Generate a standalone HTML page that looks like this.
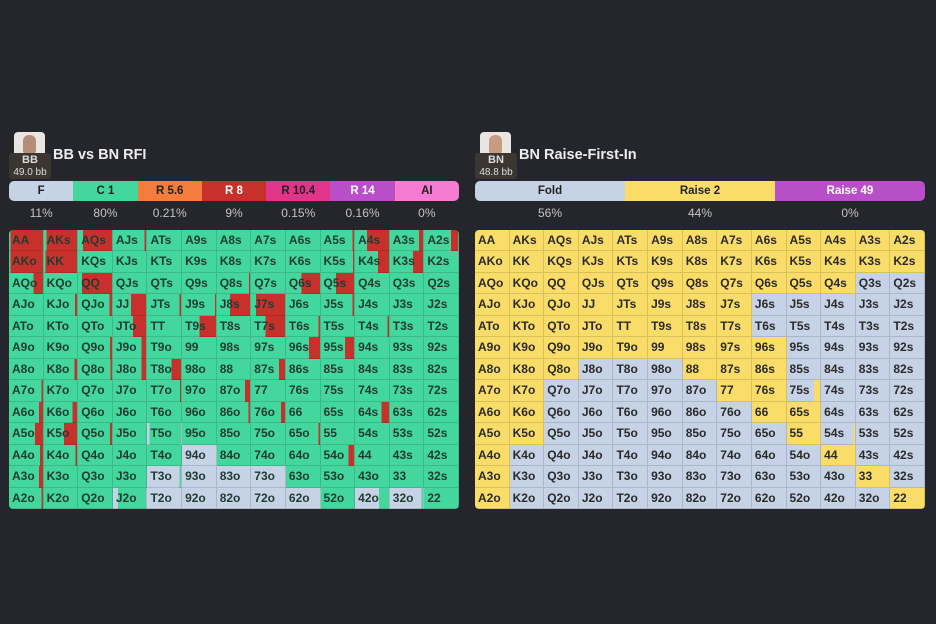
<!DOCTYPE html>
<html><head><meta charset="utf-8"><style>
*{box-sizing:border-box;margin:0;padding:0}
body{width:936px;height:624px;background:#25262b;font-family:"Liberation Sans",sans-serif;position:relative;overflow:hidden}
.av{position:absolute;width:31px;height:22px;background:#e9e6e2;border-radius:4px 4px 0 0;overflow:hidden}
.av i{position:absolute;left:9px;top:3px;width:13px;height:19px;border-radius:6px 6px 3px 3px;background:#b58d78}
.lab{position:absolute;width:42px;height:26px;background:#3b3631;border-radius:3px;color:#ddd;text-align:center;font-size:10px;line-height:12px;padding-top:1px}
.lab b{font-size:11px}
.title{position:absolute;color:#ececec;font-weight:bold;font-size:14.5px}
.bar{position:absolute;top:181px;height:20px;display:flex;border-radius:5px;overflow:hidden}
.bar div{flex:1;text-align:center;font-weight:bold;font-size:11.5px;line-height:20px;color:#222}
.pct{position:absolute;top:206px;display:flex}
.pct div{flex:1;text-align:center;font-size:12px;color:#c4c4c4}
.grid{position:absolute;top:230px;width:450px;height:279px;display:grid;grid-template-columns:repeat(13,1fr);grid-template-rows:repeat(13,1fr);border-radius:4px;overflow:hidden}
.grid div{border-right:1px solid rgba(0,0,0,.13);border-bottom:1px solid rgba(0,0,0,.13);font-weight:bold;font-size:12px;padding:3px 0 0 3px;color:#1f3b31;white-space:nowrap}
#L div{--b:0%;--r:0%;background:linear-gradient(90deg,#c6d2e6 var(--b),#43d69d var(--b),#43d69d calc(100% - var(--r)),#c8312b calc(100% - var(--r)))}
#R div{background:#c6d2e6;color:#2a2a2a}
#R div.y{background:#f9dd68}
</style></head><body>

<div class="av" style="left:14px;top:132px"><i></i></div>
<div class="lab" style="left:9px;top:153px"><b>BB</b><br>49.0 bb</div>
<div class="title" style="left:53px;top:147px">BB vs BN RFI</div>
<div class="bar" style="left:9px;width:450px">
<div style="background:#c6d2e6">F</div><div style="background:#43d69d">C 1</div><div style="background:#f47c3c">R 5.6</div><div style="background:#c8312b;color:#fff">R 8</div><div style="background:#e0358a">R 10.4</div><div style="background:#b94fc8;color:#fff">R 14</div><div style="background:#f57cd0">AI</div></div>
<div class="pct" style="left:9px;width:450px"><div>11%</div><div>80%</div><div>0.21%</div><div>9%</div><div>0.15%</div><div>0.16%</div><div>0%</div></div>

<div class="grid" id="L" style="left:9px">
<div style="--r:95%">AA</div><div style="--r:92%">AKs</div><div style="--r:85%">AQs</div><div style="--r:4%">AJs</div><div>ATs</div><div>A9s</div><div>A8s</div><div>A7s</div><div>A6s</div><div style="--r:4%">A5s</div><div style="--r:65%">A4s</div><div style="--r:12%">A3s</div><div style="--r:20%">A2s</div>
<div style="--r:95%">AKo</div><div style="--r:95%">KK</div><div>KQs</div><div>KJs</div><div>KTs</div><div>K9s</div><div>K8s</div><div>K7s</div><div>K6s</div><div style="--r:3%">K5s</div><div style="--r:33%">K4s</div><div style="--r:30%">K3s</div><div>K2s</div>
<div style="--r:28%">AQo</div><div>KQo</div><div style="--r:88%">QQ</div><div>QJs</div><div>QTs</div><div>Q9s</div><div style="--r:3%">Q8s</div><div>Q7s</div><div style="--r:55%">Q6s</div><div style="--r:55%">Q5s</div><div>Q4s</div><div>Q3s</div><div>Q2s</div>
<div>AJo</div><div style="--r:6%">KJo</div><div style="--r:8%">QJo</div><div style="--r:45%">JJ</div><div style="--r:4%">JTs</div><div style="--r:3%">J9s</div><div style="--r:60%">J8s</div><div style="--r:85%">J7s</div><div>J6s</div><div style="--r:5%">J5s</div><div>J4s</div><div>J3s</div><div>J2s</div>
<div>ATo</div><div>KTo</div><div>QTo</div><div style="--r:40%">JTo</div><div>TT</div><div style="--r:48%">T9s</div><div>T8s</div><div style="--r:58%">T7s</div><div style="--r:4%">T6s</div><div>T5s</div><div style="--r:4%">T4s</div><div>T3s</div><div>T2s</div>
<div>A9o</div><div>K9o</div><div style="--r:6%">Q9o</div><div style="--r:14%">J9o</div><div>T9o</div><div>99</div><div>98s</div><div>97s</div><div style="--r:32%">96s</div><div style="--r:27%">95s</div><div>94s</div><div>93s</div><div>92s</div>
<div>A8o</div><div style="--r:8%">K8o</div><div style="--r:4%">Q8o</div><div style="--r:13%">J8o</div><div style="--r:28%">T8o</div><div>98o</div><div>88</div><div style="--r:18%">87s</div><div>86s</div><div>85s</div><div>84s</div><div>83s</div><div>82s</div>
<div style="--r:5%">A7o</div><div>K7o</div><div>Q7o</div><div>J7o</div><div style="--r:3%">T7o</div><div>97o</div><div style="--r:15%">87o</div><div>77</div><div>76s</div><div>75s</div><div>74s</div><div>73s</div><div>72s</div>
<div style="--r:12%">A6o</div><div style="--r:13%">K6o</div><div>Q6o</div><div>J6o</div><div>T6o</div><div>96o</div><div style="--r:4%">86o</div><div style="--r:12%">76o</div><div>66</div><div>65s</div><div style="--r:22%">64s</div><div>63s</div><div>62s</div>
<div style="--r:24%">A5o</div><div style="--r:40%">K5o</div><div style="--r:6%">Q5o</div><div>J5o</div><div style="--b:7%">T5o</div><div>95o</div><div>85o</div><div>75o</div><div style="--r:4%">65o</div><div>55</div><div>54s</div><div>53s</div><div>52s</div>
<div style="--r:9%">A4o</div><div style="--r:4%">K4o</div><div>Q4o</div><div>J4o</div><div>T4o</div><div style="--b:100%">94o</div><div>84o</div><div>74o</div><div>64o</div><div style="--r:16%">54o</div><div>44</div><div>43s</div><div>42s</div>
<div style="--r:12%">A3o</div><div>K3o</div><div>Q3o</div><div>J3o</div><div style="--b:95%">T3o</div><div style="--b:100%">93o</div><div style="--b:100%">83o</div><div style="--b:100%">73o</div><div>63o</div><div>53o</div><div>43o</div><div>33</div><div>32s</div>
<div style="--r:4%">A2o</div><div>K2o</div><div>Q2o</div><div style="--b:15%">J2o</div><div style="--b:100%">T2o</div><div style="--b:100%">92o</div><div style="--b:100%">82o</div><div style="--b:100%">72o</div><div style="--b:100%">62o</div><div>52o</div><div style="--b:70%">42o</div><div style="--b:95%">32o</div><div>22</div>
</div>

<div class="av" style="left:480px;top:132px"><i style="background:#c79a82"></i></div>
<div class="lab" style="left:475px;top:153px"><b>BN</b><br>48.8 bb</div>
<div class="title" style="left:519px;top:147px">BN Raise-First-In</div>
<div class="bar" style="left:475px;width:450px">
<div style="background:#c6d2e6">Fold</div><div style="background:#f9dd68">Raise 2</div><div style="background:#b94fc8;color:#fff">Raise 49</div></div>
<div class="pct" style="left:475px;width:450px"><div>56%</div><div>44%</div><div>0%</div></div>

<div class="grid" id="R" style="left:475px">
<div class="y">AA</div><div class="y">AKs</div><div class="y">AQs</div><div class="y">AJs</div><div class="y">ATs</div><div class="y">A9s</div><div class="y">A8s</div><div class="y">A7s</div><div class="y">A6s</div><div class="y">A5s</div><div class="y">A4s</div><div class="y">A3s</div><div class="y">A2s</div>
<div class="y">AKo</div><div class="y">KK</div><div class="y">KQs</div><div class="y">KJs</div><div class="y">KTs</div><div class="y">K9s</div><div class="y">K8s</div><div class="y">K7s</div><div class="y">K6s</div><div class="y">K5s</div><div class="y">K4s</div><div class="y">K3s</div><div class="y">K2s</div>
<div class="y">AQo</div><div class="y">KQo</div><div class="y">QQ</div><div class="y">QJs</div><div class="y">QTs</div><div class="y">Q9s</div><div class="y">Q8s</div><div class="y">Q7s</div><div class="y">Q6s</div><div class="y">Q5s</div><div class="y">Q4s</div><div>Q3s</div><div>Q2s</div>
<div class="y">AJo</div><div class="y">KJo</div><div class="y">QJo</div><div class="y">JJ</div><div class="y">JTs</div><div class="y">J9s</div><div class="y">J8s</div><div class="y">J7s</div><div>J6s</div><div>J5s</div><div>J4s</div><div>J3s</div><div>J2s</div>
<div class="y">ATo</div><div class="y">KTo</div><div class="y">QTo</div><div class="y">JTo</div><div class="y">TT</div><div class="y">T9s</div><div class="y">T8s</div><div class="y">T7s</div><div>T6s</div><div>T5s</div><div>T4s</div><div>T3s</div><div>T2s</div>
<div class="y">A9o</div><div class="y">K9o</div><div class="y">Q9o</div><div class="y">J9o</div><div class="y">T9o</div><div class="y">99</div><div class="y">98s</div><div class="y">97s</div><div class="y">96s</div><div>95s</div><div>94s</div><div>93s</div><div>92s</div>
<div class="y">A8o</div><div class="y">K8o</div><div class="y">Q8o</div><div>J8o</div><div>T8o</div><div>98o</div><div class="y">88</div><div class="y">87s</div><div class="y">86s</div><div>85s</div><div>84s</div><div>83s</div><div>82s</div>
<div class="y">A7o</div><div class="y">K7o</div><div>Q7o</div><div>J7o</div><div>T7o</div><div>97o</div><div>87o</div><div class="y">77</div><div class="y">76s</div><div style="background:linear-gradient(90deg,#c6d2e6 82%,#f9dd68 82%)">75s</div><div>74s</div><div>73s</div><div>72s</div>
<div class="y">A6o</div><div class="y">K6o</div><div>Q6o</div><div>J6o</div><div>T6o</div><div>96o</div><div>86o</div><div>76o</div><div class="y">66</div><div class="y">65s</div><div>64s</div><div>63s</div><div>62s</div>
<div class="y">A5o</div><div class="y">K5o</div><div>Q5o</div><div>J5o</div><div>T5o</div><div>95o</div><div>85o</div><div>75o</div><div>65o</div><div class="y">55</div><div style="background:linear-gradient(90deg,#c6d2e6 96%,#f9dd68 96%)">54s</div><div>53s</div><div>52s</div>
<div class="y">A4o</div><div>K4o</div><div>Q4o</div><div>J4o</div><div>T4o</div><div>94o</div><div>84o</div><div>74o</div><div>64o</div><div>54o</div><div class="y">44</div><div>43s</div><div>42s</div>
<div class="y">A3o</div><div>K3o</div><div>Q3o</div><div>J3o</div><div>T3o</div><div>93o</div><div>83o</div><div>73o</div><div>63o</div><div>53o</div><div>43o</div><div class="y">33</div><div>32s</div>
<div class="y">A2o</div><div>K2o</div><div>Q2o</div><div>J2o</div><div>T2o</div><div>92o</div><div>82o</div><div>72o</div><div>62o</div><div>52o</div><div>42o</div><div>32o</div><div class="y">22</div>
</div>
</body></html>
